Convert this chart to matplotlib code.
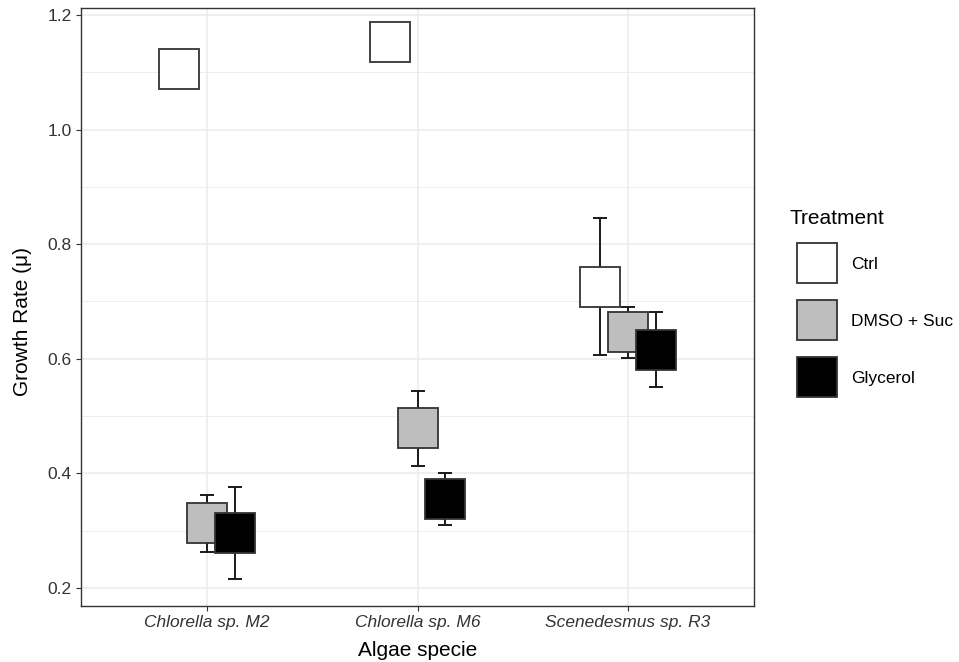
import matplotlib
matplotlib.use("Agg")
import matplotlib.pyplot as plt
from matplotlib.lines import Line2D
import numpy as np

plt.rcParams['font.family'] = ['Liberation Sans', 'DejaVu Sans']

species = ["Chlorella sp. M2", "Chlorella sp. M6", "Scenedesmus sp. R3"]
treatments = ["Ctrl", "DMSO + Suc", "Glycerol"]
fills = ["white", "#BEBEBE", "black"]

# mean growth rate per treatment (rows) and species (cols)
means = {
    "Ctrl":       [1.106, 1.153, 0.726],
    "DMSO + Suc": [0.313, 0.480, 0.646],
    "Glycerol":   [0.296, 0.356, 0.616],
}
err_lo = {
    "Ctrl":       [1.090, 1.137, 0.607],
    "DMSO + Suc": [0.263, 0.413, 0.601],
    "Glycerol":   [0.215, 0.310, 0.550],
}
err_hi = {
    "Ctrl":       [1.122, 1.169, 0.845],
    "DMSO + Suc": [0.362, 0.544, 0.690],
    "Glycerol":   [0.376, 0.401, 0.682],
}
offsets = [-0.133, 0.0, 0.133]

fig = plt.figure(figsize=(9.59, 6.62), dpi=100)
ax = fig.add_axes([81/959, 56/662, 673/959, 598/662])

x = np.arange(1, len(species) + 1)
for tr, fc, off in zip(treatments, fills, offsets):
    m = np.array(means[tr])
    lo = m - np.array(err_lo[tr])
    hi = np.array(err_hi[tr]) - m
    ax.errorbar(x + off, m, yerr=[lo, hi], fmt='none', ecolor='#1a1a1a',
                elinewidth=1.4, capsize=5, capthick=1.4, zorder=3)
    ax.plot(x + off, m, linestyle='none', marker='s', markersize=28.5,
            markerfacecolor=fc, markeredgecolor='#333333', markeredgewidth=1.3,
            zorder=4)

ax.set_xlim(0.4, 3.6)
ax.set_ylim(0.1686, 1.212)
ax.set_xticks(x)
ax.set_xticklabels(species, fontstyle='italic', fontsize=12.5, color='#333333')
ax.set_yticks([0.2, 0.4, 0.6, 0.8, 1.0, 1.2])
ax.set_yticklabels(["0.2", "0.4", "0.6", "0.8", "1.0", "1.2"], fontsize=12.5, color='#333333')
ax.set_yticks([0.3, 0.5, 0.7, 0.9, 1.1], minor=True)
ax.tick_params(axis='both', which='major', length=3.5, color='#333333', width=0.8, pad=3)
ax.tick_params(axis='y', which='minor', length=0)
ax.grid(True, which='major', color='#EBEBEB', linewidth=1.1, zorder=0)
ax.grid(True, which='minor', axis='y', color='#EBEBEB', linewidth=0.6, zorder=0)
ax.set_axisbelow(True)
for s in ax.spines.values():
    s.set_color('#333333')
    s.set_linewidth(1.0)

ax.set_xlabel("Algae specie", fontsize=15, labelpad=8)
ax.set_ylabel("Growth Rate (\u03bc)", fontsize=15)
ax.yaxis.set_label_coords(-(81 - 32) / 673, (662 - 321 - 56) / 598)

handles = [Line2D([], [], linestyle='none', marker='s', markersize=28.5,
                  markerfacecolor=fc, markeredgecolor='#333333', markeredgewidth=1.3)
           for fc in fills]
leg = fig.legend(handles, treatments, loc='upper left',
                 bbox_to_anchor=(797/959, 1 - 257/662), frameon=False,
                 fontsize=12.5, handlelength=2.36,
                 labelspacing=2.42, handletextpad=0.75, borderpad=0, borderaxespad=0)
fig.text(790/959, 1 - 218/662, "Treatment", fontsize=15, va='center', ha='left')

fig.savefig("out.png", dpi=100)
